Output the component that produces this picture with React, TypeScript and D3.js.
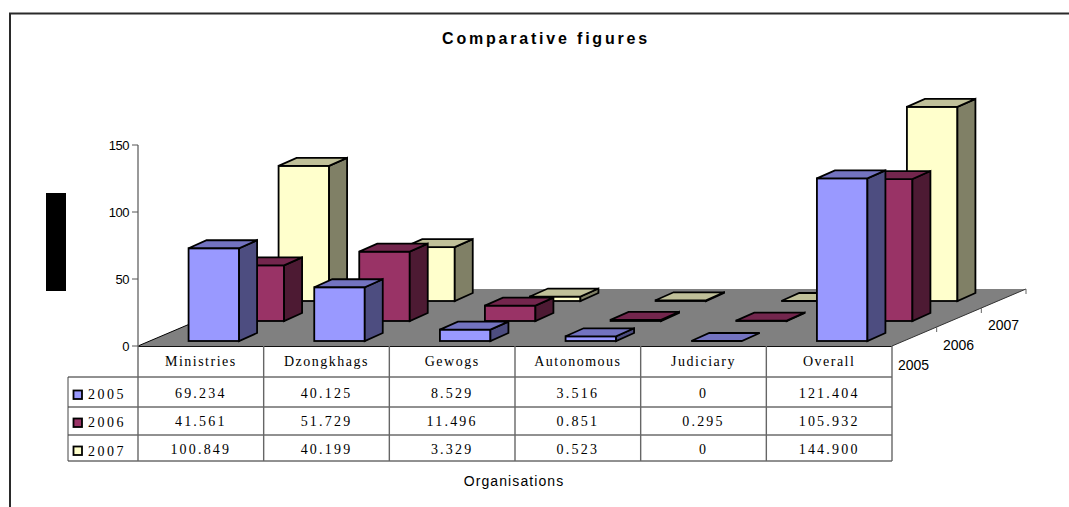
import React from "react";
import * as d3 from "d3";

const categories = ["Ministries", "Dzongkhags", "Gewogs", "Autonomous", "Judiciary", "Overall"];
const years = ["2005", "2006", "2007"];
const values2005 = [69.234, 40.125, 8.529, 3.516, 0, 121.404];
const values2006 = [41.561, 51.729, 11.496, 0.851, 0.295, 105.932];
const values2007 = [100.849, 40.199, 3.329, 0.523, 0, 144.9];
const labels2005 = ["69.234", "40.125", "8.529", "3.516", "0", "121.404"];
const labels2006 = ["41.561", "51.729", "11.496", "0.851", "0.295", "105.932"];
const labels2007 = ["100.849", "40.199", "3.329", "0.523", "0", "144.900"];
const yTicks = [0, 50, 100, 150];
const fills = ["#9999ff", "#993366", "#ffffcc"];
const tops = ["#7373c0", "#73264d", "#c0c099"];
const sides = ["#4d4d80", "#4d1a33", "#808066"];

const rows = [values2005, values2006, values2007];
const rowLabels = [labels2005, labels2006, labels2007];

const left = 138, right = 892, base = 346;
const x = d3.scaleBand<string>().domain(categories).range([left, right]);
const y = d3.scaleLinear().domain([0, 150]).range([base, 145]);
// depth axis: 0 = front of floor, 1 = back of floor
const depthX = 134, depthY = 57;
const barDepthDx = 18, barDepthDy = 8;
const barW = 50.5;
const slotDx = 45, slotDy = 20, frontDx = 13, frontDy = 5;

const rowY = [377, 407, 435, 461];
const cellBaseline = [397.5, 425.5, 453.5];
const yearBaseline = [399, 427, 455.5];
const keyTop = [390.5, 418.5, 446.5];
const serif = "'Liberation Serif', serif";
const sans = "'Liberation Sans', Arial, sans-serif";

function Bar({ cat, s, v }: { cat: string; s: number; v: number }) {
  const x0 = x(cat)! + (x.bandwidth() - barW) / 2 + frontDx + s * slotDx;
  const bottom = base - frontDy - s * slotDy;
  const h = base - y(v);
  const t = bottom - h;
  const x1 = x0 + barW;
  const stroke = { stroke: "#000", strokeWidth: 1.8, strokeLinejoin: "miter" as const };
  const pts = (a: number[][]) => a.map((p) => p.join(",")).join(" ");
  return (
    <g>
      {h > 0 && <rect x={x0} y={t} width={barW} height={h} fill={fills[s]} {...stroke} />}
      {h > 0 && (
        <polygon
          points={pts([[x1, t], [x1 + barDepthDx, t - barDepthDy], [x1 + barDepthDx, bottom - barDepthDy], [x1, bottom]])}
          fill={sides[s]}
          {...stroke}
        />
      )}
      <polygon
        points={pts([[x0, t], [x0 + barDepthDx, t - barDepthDy], [x1 + barDepthDx, t - barDepthDy], [x1, t]])}
        fill={tops[s]}
        {...stroke}
      />
    </g>
  );
}

export default function App() {
  const tableLeft = 68;
  const bw = x.bandwidth();
  return (
    <svg width={1069} height={507} style={{ position: "absolute", left: 0, top: 0, display: "block" }}>
      <rect width={1069} height={507} fill="#fff" />
      {/* frame */}
      <path d="M1069 13.5H10V507" fill="none" stroke="#2a2a2a" strokeWidth={2} />
      <rect x={46} y={193} width={20} height={98} fill="#000" />
      <text x={546} y={43.5} textAnchor="middle" fontFamily={sans} fontWeight="bold" fontSize={16} letterSpacing={2.8} fill="#000">
        Comparative figures
      </text>

      {/* floor */}
      <polygon
        points={`${left},${base} ${left + depthX},${base - depthY} ${right + depthX},${base - depthY} ${right},${base}`}
        fill="#808080"
      />
      <path d={`M${left} ${base}L${left + depthX} ${base - depthY}`} stroke="#000" strokeWidth={1} fill="none" />
      <path d={`M${right} ${base}L${right + depthX} ${base - depthY}`} stroke="#333" strokeWidth={1} fill="none" />

      {/* value axis */}
      <path d={`M${left} ${y(150)}V${base}`} stroke="#777" strokeWidth={1.5} fill="none" />
      {yTicks.map((t) => (
        <g key={t}>
          <line x1={left - 6} x2={left} y1={y(t)} y2={y(t)} stroke="#555" />
          <text x={left - 9} y={y(t) + 5} textAnchor="end" fontFamily={sans} fontSize={13} letterSpacing={-0.5} fill="#000">
            {t}
          </text>
        </g>
      ))}

      {/* bars, back to front */}
      {[2, 1, 0].map((s) => categories.map((c, i) => <Bar key={c + s} cat={c} s={s} v={rows[s][i]} />))}

      {/* depth axis */}
      {years.map((yr, i) => {
        const tx = right + ((i + 1) * depthX) / 3;
        const ty = base - ((i + 1) * depthY) / 3;
        return (
          <g key={yr}>
            <line x1={tx} x2={tx} y1={ty} y2={ty + 5} stroke="#666" />
            <text x={898 + i * 45} y={370 - i * 20} fontFamily={sans} fontSize={14} fill="#000">
              {yr}
            </text>
          </g>
        );
      })}

      {/* data table */}
      <g fontFamily={serif} fontSize={14} fill="#000">
        <path d={`M${left} ${base + 0.5}H${right}`} stroke="#111" strokeWidth={1.2} />
        {rowY.map((ry) => (
          <line key={ry} x1={tableLeft} x2={right} y1={ry} y2={ry} stroke="#222" strokeWidth={1} />
        ))}
        <line x1={tableLeft} x2={tableLeft} y1={rowY[0]} y2={rowY[3]} stroke="#444" />
        {[...categories.map((c) => x(c)!), right].map((px) => (
          <line key={px} x1={px} x2={px} y1={base} y2={rowY[3]} stroke="#666" strokeWidth={1.4} />
        ))}
        {categories.map((c) => (
          <text key={c} x={x(c)! + bw / 2} y={366} textAnchor="middle" letterSpacing={1.5}>
            {c}
          </text>
        ))}
        {years.map((yr, s) => (
          <g key={yr}>
            <rect x={73.5} y={keyTop[s]} width={8.5} height={8.5} fill={fills[s]} stroke="#000" strokeWidth={1.8} />
            <text x={88} y={yearBaseline[s]} letterSpacing={2.5}>
              {yr}
            </text>
            {categories.map((c, i) => (
              <text key={c} x={x(c)! + bw / 2} y={cellBaseline[s]} textAnchor="middle" letterSpacing={2.2}>
                {rowLabels[s][i]}
              </text>
            ))}
          </g>
        ))}
      </g>
      <text x={514} y={486} textAnchor="middle" fontFamily={sans} fontSize={14} letterSpacing={1.1} fill="#000">
        Organisations
      </text>
    </svg>
  );
}
